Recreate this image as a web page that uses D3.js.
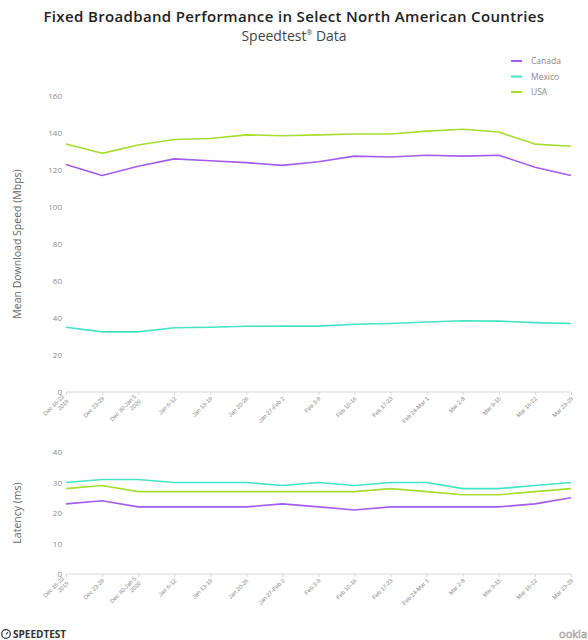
<!DOCTYPE html>
<html>
<head>
<meta charset="utf-8">
<script src="https://cdn.jsdelivr.net/npm/d3@7"></script>
<style>
  html, body { margin: 0; padding: 0; background: #fff; }
  svg { display: block; font-family: "Open Sans", sans-serif; }
</style>
</head>
<body>
<svg id="chart" width="588" height="640"></svg>
<script>
// Weekly periods (Dec 2019 – Mar 2020)
const weeks = [
  "Dec 16-22|2019", "Dec 23-29", "Dec 30-Jan 5|2020", "Jan 6-12", "Jan 13-19",
  "Jan 20-26", "Jan 27-Feb 2", "Feb 3-9", "Feb 10-16", "Feb 17-23",
  "Feb 24-Mar 1", "Mar 2-8", "Mar 9-15", "Mar 16-22", "Mar 23-29"
];
const countries = ["Canada", "Mexico", "USA"];
const colors = ["#a35cf2", "#44e3c6", "#a6dd2e"];

// Mean download speed (Mbps)
const speedCanada = [123, 117, 122, 126, 125, 124, 122.5, 124.5, 127.5, 127, 128, 127.5, 128, 121.5, 117];
const speedMexico = [35, 32.5, 32.5, 34.7, 35, 35.5, 35.6, 35.6, 36.6, 37, 37.8, 38.5, 38.3, 37.5, 37];
const speedUSA    = [134, 129, 133.5, 136.5, 137, 139, 138.5, 139, 139.5, 139.5, 141, 142, 140.5, 134, 132.8];

// Latency (ms)
const latCanada = [23, 24, 22, 22, 22, 22, 23, 22, 21, 22, 22, 22, 22, 23, 25];
const latMexico = [30, 31, 31, 30, 30, 30, 29, 30, 29, 30, 30, 28, 28, 29, 30];
const latUSA    = [28, 29, 27, 27, 27, 27, 27, 27, 27, 28, 27, 26, 26, 27, 28];

const speedTicks = [0, 20, 40, 60, 80, 100, 120, 140, 160];
const latencyTicks = [0, 10, 20, 30, 40];

const svg = d3.select("#chart");

// Titles
svg.append("text").attr("x", 294).attr("y", 22).attr("text-anchor", "middle")
  .attr("font-size", 15).attr("font-weight", 600).attr("fill", "#222")
  .attr("letter-spacing", 0.35)
  .text("Fixed Broadband Performance in Select North American Countries");
const sub = svg.append("text").attr("x", 294).attr("y", 41).attr("text-anchor", "middle")
  .attr("font-size", 14).attr("fill", "#444");
sub.append("tspan").text("Speedtest");
sub.append("tspan").attr("font-size", 7).attr("dy", -6).text("\u00AE");
sub.append("tspan").attr("dy", 6).text(" Data");

const x = d3.scalePoint().domain(d3.range(weeks.length)).range([66, 571]);

function panel(opts) {
  const { top, bottom, max, ticks, label, series } = opts;
  const y = d3.scaleLinear().domain([0, max]).range([bottom, top]);
  const g = svg.append("g");

  // y tick labels
  g.append("g").attr("transform", "translate(62,0)")
    .call(d3.axisLeft(y).tickValues(ticks).tickSize(0).tickPadding(0))
    .call(a => a.select(".domain").remove())
    .call(a => a.selectAll("text").attr("font-size", 8).attr("fill", "#8a8a8a")
      .attr("font-family", "Open Sans, sans-serif"));

  // x axis
  const xa = g.append("g").attr("transform", `translate(0,${bottom})`)
    .call(d3.axisBottom(x).tickSize(3).tickSizeOuter(0).tickFormat(() => ""));
  xa.select(".domain").attr("stroke", "#d8d8d8").attr("d", `M66,0H571`);
  xa.selectAll(".tick line").attr("stroke", "#d8d8d8");
  xa.selectAll(".tick").each(function (i) {
    const parts = weeks[i].split("|");
    const t = d3.select(this).append("text")
      .attr("transform", "translate(2,7) rotate(-45)")
      .attr("text-anchor", "end").attr("font-size", 5.8).attr("fill", "#888");
    parts.forEach((p, k) => {
      t.append("tspan").attr("x", 0).attr("dy", k === 0 ? 0 : 6.5).text(p);
    });
    if (parts.length > 1) t.attr("transform", "translate(-2,5) rotate(-45)");
  });

  // y-axis title
  svg.append("text")
    .attr("transform", `translate(21,${(top + bottom) / 2}) rotate(-90)`)
    .attr("text-anchor", "middle").attr("font-size", 10.5).attr("fill", "#666")
    .text(label);

  const line = d3.line().x((d, i) => x(i)).y(d => y(d));
  series.forEach((s, k) => {
    g.append("path").datum(s).attr("d", line)
      .attr("fill", "none").attr("stroke", colors[k]).attr("stroke-width", 1.6)
      .attr("stroke-linejoin", "round");
  });
}

panel({ top: 96, bottom: 392, max: 160, ticks: speedTicks,
  label: "Mean Download Speed (Mbps)", series: [speedCanada, speedMexico, speedUSA] });
panel({ top: 452, bottom: 574, max: 40, ticks: latencyTicks,
  label: "Latency (ms)", series: [latCanada, latMexico, latUSA] });

// Legend
const lg = svg.append("g").selectAll("g").data(countries).join("g")
  .attr("transform", (d, i) => `translate(511,${61 + i * 15.5})`);
lg.append("line").attr("x1", 0).attr("x2", 11).attr("stroke", (d, i) => colors[i]).attr("stroke-width", 2);
lg.append("text").attr("x", 20).attr("y", 3).attr("font-size", 8.5).attr("fill", "#888").text(d => d);

// Footer marks
const logo = svg.append("g").attr("transform", "translate(6,634)");
logo.append("circle").attr("r", 4.3).attr("fill", "none").attr("stroke", "#333").attr("stroke-width", 1.2);
logo.append("line").attr("x1", 0).attr("y1", 0.5).attr("x2", 2).attr("y2", -2)
  .attr("stroke", "#333").attr("stroke-width", 1.2);
logo.append("text").attr("x", 7).attr("y", 3.6).attr("font-size", 10)
  .attr("font-weight", 700).attr("fill", "#333").text("SPEEDTEST");
svg.append("text").attr("x", 587).attr("y", 638).attr("text-anchor", "end")
  .attr("font-size", 11).attr("fill", "none").attr("stroke", "#999").attr("stroke-width", 0.6)
  .text("ookla");
</script>
</body>
</html>
